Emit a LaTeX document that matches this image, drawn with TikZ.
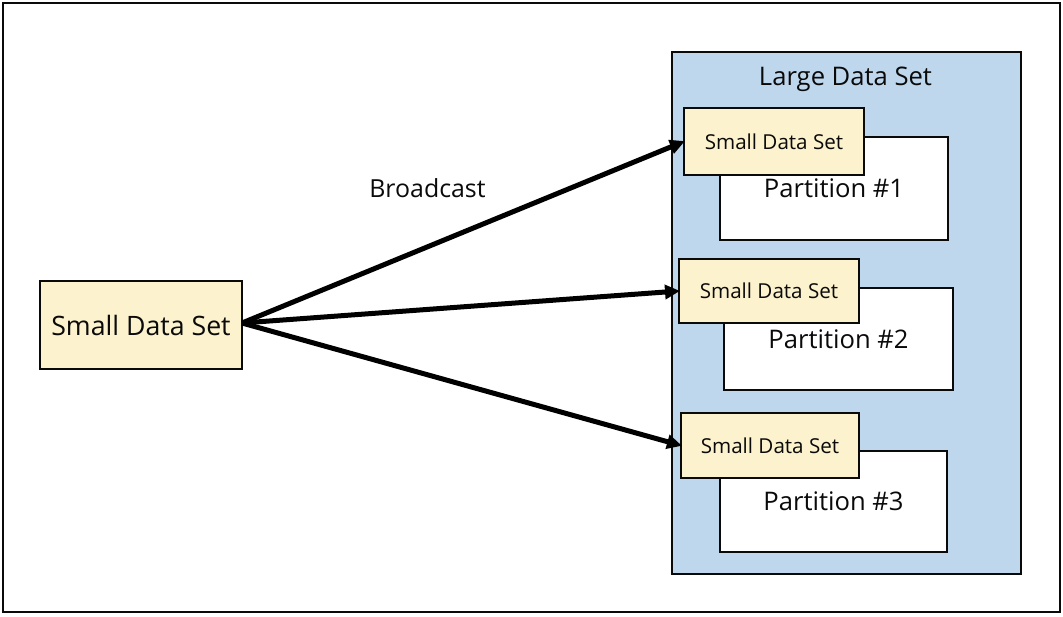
\documentclass[tikz,border=0pt]{standalone}
\usepackage{fontspec}
\setmainfont{Open Sans}
\usetikzlibrary{arrows.meta}
\definecolor{sdsfill}{RGB}{252,242,205}
\definecolor{ldsfill}{RGB}{190,215,237}
\definecolor{ink}{RGB}{10,10,10}
\tikzset{
  sdsbox/.style={draw=ink, line width=1.8pt, fill=sdsfill, inner sep=0pt, outer sep=0pt},
  partbox/.style={draw=ink, line width=1.8pt, fill=white, inner sep=0pt, outer sep=0pt},
  ldsbox/.style={draw=ink, line width=1.8pt, fill=ldsfill, inner sep=0pt, outer sep=0pt},
  bcarrow/.style={draw=black, line width=5pt, -{Triangle[length=15pt,width=14pt]}, shorten >=-1pt},
  smallfont/.style={font=\fontsize{20.6}{24}\selectfont, text=ink},
  bigfont/.style={font=\fontsize{25.6}{30}\selectfont, text=ink}
}
\begin{document}
\begin{tikzpicture}[x=1pt,y=-1pt]
\useasboundingbox (0,0) rectangle (1063,616);
% outer frame
\draw[ink, line width=2.2pt] (3,3) rectangle (1060,612);
% large data set
\node[ldsbox, minimum width=349pt, minimum height=522pt] (large) at (846.5,313) {};
\node[bigfont, anchor=base] (largelabel) at (845.5,85) {Large Data Set};
% partitions
\node[partbox, bigfont, minimum width=228pt, minimum height=103pt] (p1) at (834,188.5) {Partition \#1};
\node[partbox, bigfont, minimum width=229pt, minimum height=102pt] (p2) at (838.5,339) {Partition \#2};
\node[partbox, bigfont, minimum width=227pt, minimum height=101pt] (p3) at (833.5,501.5) {Partition \#3};
% small data set copies
\node[sdsbox, smallfont, minimum width=180pt, minimum height=67pt] (s1) at (774,141.5) {Small Data Set};
\node[sdsbox, smallfont, minimum width=180pt, minimum height=64pt] (s2) at (769,291) {Small Data Set};
\node[sdsbox, smallfont, minimum width=178pt, minimum height=65pt] (s3) at (770,445.5) {Small Data Set};
% source
\node[sdsbox, font=\fontsize{26.7}{31}\selectfont, text=ink, minimum width=202pt, minimum height=88pt] (src) at (141,325) {Small Data Set};
% label
\node[font=\fontsize{24.9}{29}\selectfont, text=ink, anchor=base] (bc) at (427.5,197) {Broadcast};
% arrows
\coordinate (start) at ([yshift=2pt]src.east);
\draw[bcarrow] (start) -- (s1.west);
\draw[bcarrow] (start) -- (s2.west);
\draw[bcarrow] (start) -- (s3.west);
\end{tikzpicture}
\end{document}
